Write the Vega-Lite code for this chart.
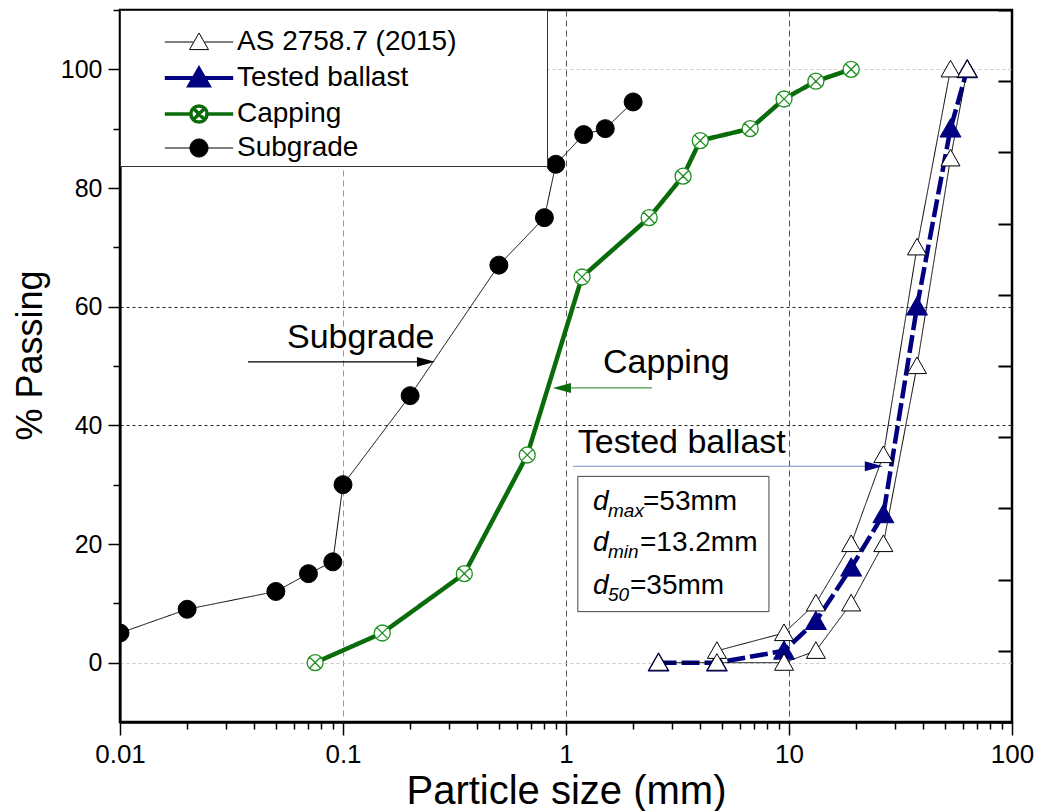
{
  "$schema": "https://vega.github.io/schema/vega-lite/v6.json",
  "width": 892,
  "height": 712,
  "autosize": "none",
  "padding": {"left": 120, "top": 10, "right": 28, "bottom": 89},
  "background": "white",
  "config": {
    "view": {"stroke": "black", "strokeWidth": 2.5},
    "font": "Liberation Sans",
    "axis": {"labelFont": "Liberation Sans", "titleFont": "Liberation Sans", "labelColor": "black", "titleColor": "black", "tickColor": "black", "domainColor": "black", "titleFontWeight": "normal"}
  },
  "datasets": {
    "main": [
      {"s": "Tested ballast", "c": "T", "x": 2.6, "y": 0},
      {"s": "Tested ballast", "c": "T", "x": 4.75, "y": 0},
      {"s": "Tested ballast", "c": "T", "x": 9.5, "y": 2},
      {"s": "Tested ballast", "c": "T", "x": 13.2, "y": 7},
      {"s": "Tested ballast", "c": "T", "x": 19, "y": 16},
      {"s": "Tested ballast", "c": "T", "x": 26.5, "y": 25},
      {"s": "Tested ballast", "c": "T", "x": 37.5, "y": 60},
      {"s": "Tested ballast", "c": "T", "x": 53, "y": 90},
      {"s": "Tested ballast", "c": "T", "x": 63, "y": 100},
      {"s": "AS 2758.7 (2015)", "c": "AU", "x": 4.75, "y": 2},
      {"s": "AS 2758.7 (2015)", "c": "AU", "x": 9.5, "y": 5},
      {"s": "AS 2758.7 (2015)", "c": "AU", "x": 13.2, "y": 10},
      {"s": "AS 2758.7 (2015)", "c": "AU", "x": 19, "y": 20},
      {"s": "AS 2758.7 (2015)", "c": "AU", "x": 26.5, "y": 35},
      {"s": "AS 2758.7 (2015)", "c": "AU", "x": 37.5, "y": 70},
      {"s": "AS 2758.7 (2015)", "c": "AU", "x": 53, "y": 100},
      {"s": "AS 2758.7 (2015)", "c": "AL", "x": 2.6, "y": 0},
      {"s": "AS 2758.7 (2015)", "c": "AL", "x": 4.75, "y": 0},
      {"s": "AS 2758.7 (2015)", "c": "AL", "x": 9.5, "y": 0},
      {"s": "AS 2758.7 (2015)", "c": "AL", "x": 13.2, "y": 2},
      {"s": "AS 2758.7 (2015)", "c": "AL", "x": 19, "y": 10},
      {"s": "AS 2758.7 (2015)", "c": "AL", "x": 26.5, "y": 20},
      {"s": "AS 2758.7 (2015)", "c": "AL", "x": 37.5, "y": 50},
      {"s": "AS 2758.7 (2015)", "c": "AL", "x": 53, "y": 85},
      {"s": "AS 2758.7 (2015)", "c": "AL", "x": 63, "y": 100},
      {"s": "Capping", "c": "C", "x": 0.075, "y": 0},
      {"s": "Capping", "c": "C", "x": 0.15, "y": 5},
      {"s": "Capping", "c": "C", "x": 0.35, "y": 15},
      {"s": "Capping", "c": "C", "x": 0.67, "y": 35},
      {"s": "Capping", "c": "C", "x": 1.18, "y": 65},
      {"s": "Capping", "c": "C", "x": 2.36, "y": 75},
      {"s": "Capping", "c": "C", "x": 3.35, "y": 82},
      {"s": "Capping", "c": "C", "x": 4, "y": 88},
      {"s": "Capping", "c": "C", "x": 6.7, "y": 90},
      {"s": "Capping", "c": "C", "x": 9.5, "y": 95},
      {"s": "Capping", "c": "C", "x": 13.2, "y": 98},
      {"s": "Capping", "c": "C", "x": 19, "y": 100},
      {"s": "Subgrade", "c": "S", "x": 0.01, "y": 5},
      {"s": "Subgrade", "c": "S", "x": 0.02, "y": 9},
      {"s": "Subgrade", "c": "S", "x": 0.05, "y": 12},
      {"s": "Subgrade", "c": "S", "x": 0.07, "y": 15},
      {"s": "Subgrade", "c": "S", "x": 0.09, "y": 17},
      {"s": "Subgrade", "c": "S", "x": 0.1, "y": 30},
      {"s": "Subgrade", "c": "S", "x": 0.2, "y": 45},
      {"s": "Subgrade", "c": "S", "x": 0.5, "y": 67},
      {"s": "Subgrade", "c": "S", "x": 0.8, "y": 75},
      {"s": "Subgrade", "c": "S", "x": 0.9, "y": 84},
      {"s": "Subgrade", "c": "S", "x": 1.2, "y": 89},
      {"s": "Subgrade", "c": "S", "x": 1.5, "y": 90},
      {"s": "Subgrade", "c": "S", "x": 2, "y": 94.5}
    ],
    "ann": [
      {"k": "label", "t": "Subgrade", "x": 0.0561, "y": 53.0},
      {"k": "label", "t": "Capping", "x": 1.466, "y": 48.8},
      {"k": "label", "t": "Tested ballast", "x": 1.13, "y": 35.3},
      {"k": "d", "t": "d", "x": 1.322, "y": 25.8},
      {"k": "d", "t": "d", "x": 1.322, "y": 18.75},
      {"k": "d", "t": "d", "x": 1.322, "y": 11.65},
      {"k": "sub", "t": "max", "x": 1.543, "y": 25.8},
      {"k": "sub", "t": "min", "x": 1.543, "y": 18.75},
      {"k": "sub", "t": "50", "x": 1.543, "y": 11.65},
      {"k": "rest", "t": "=53mm", "x": 2.214, "y": 25.8},
      {"k": "rest", "t": "=13.2mm", "x": 2.147, "y": 18.75},
      {"k": "rest", "t": "=35mm", "x": 1.936, "y": 11.65}
    ],
    "arrows": [
      {"n": "Subgrade", "x1": 0.0375, "x2": 0.2355, "hx": 0.2355, "y": 50.7},
      {"n": "Capping", "x1": 0.959, "x2": 2.43, "hx": 0.959, "y": 46.3},
      {"n": "Tested ballast", "x1": 1.074, "x2": 24.0, "hx": 24.0, "y": 33.1}
    ],
    "box": [{"x1": 1.13, "x2": 8.13, "y1": 8.6, "y2": 31.4}]
  },
  "layer": [
    {
      "data": {"name": "main"},
      "mark": {"type": "line"},
      "encoding": {
        "x": {
          "field": "x", "type": "quantitative",
          "scale": {"type": "log", "domain": [0.01, 100], "nice": false},
          "axis": {
            "values": [0.01, 0.02, 0.03, 0.04, 0.05, 0.06, 0.07, 0.08, 0.09, 0.1, 0.2, 0.3, 0.4, 0.5, 0.6, 0.7, 0.8, 0.9, 1, 2, 3, 4, 5, 6, 7, 8, 9, 10, 20, 30, 40, 50, 60, 70, 80, 90, 100],
            "format": "~g",
            "labelExpr": "(datum.value==0.01||datum.value==0.1||datum.value==1||datum.value==10||datum.value==100) ? datum.label : ''",
            "tickSize": {"condition": {"test": "datum.value==0.01||datum.value==0.1||datum.value==1||datum.value==10||datum.value==100", "value": 13}, "value": 7},
            "tickWidth": 1.5,
            "domainWidth": 2.5,
            "labelFontSize": 26,
            "labelPadding": 6,
            "labelFlush": false,
            "labelOverlap": false,
            "title": "Particle size (mm)",
            "titleFontSize": 40,
            "titleY": 81,
            "titleBaseline": "alphabetic",
            "grid": true,
            "gridOpacity": {"condition": {"test": "datum.value==0.1||datum.value==1||datum.value==10", "value": 1}, "value": 0},
            "gridColor": {"condition": {"test": "datum.value==0.1", "value": "#999"}, "value": "#555"},
            "gridDash": [6, 4],
            "gridWidth": 1
          }
        },
        "y": {
          "field": "y", "type": "quantitative",
          "scale": {"domain": [-10, 110], "nice": false, "zero": false},
          "axis": {
            "values": [0, 10, 20, 30, 40, 50, 60, 70, 80, 90, 100, 110],
            "labelExpr": "datum.value % 20 == 0 ? datum.label : ''",
            "tickSize": {"condition": {"test": "datum.value % 20 == 0", "value": 12}, "value": 7},
            "tickWidth": 1.5,
            "domainWidth": 2,
            "labelFontSize": 25,
            "labelPadding": 6,
            "labelOverlap": false,
            "title": "% Passing",
            "titleFontSize": 36,
            "titleX": -90,
            "titleY": 345,
            "titleAngle": 270,
            "titleAlign": "center",
            "titleBaseline": "middle",
            "grid": true,
            "gridOpacity": {"condition": {"test": "datum.value==0||datum.value==40||datum.value==60||datum.value==100", "value": 1}, "value": 0},
            "gridColor": {"condition": {"test": "datum.value==40||datum.value==60", "value": "#222"}, "value": "#c8c8c8"},
            "gridDash": [3, 3],
            "gridWidth": 1
          }
        },
        "detail": {"field": "c"},
        "stroke": {"field": "s", "type": "nominal", "scale": {"domain": ["AS 2758.7 (2015)", "Tested ballast", "Capping", "Subgrade"], "range": ["black", "#000080", "#0a6b0a", "black"]}, "legend": null},
        "strokeWidth": {"field": "s", "type": "nominal", "scale": {"type": "ordinal", "domain": ["AS 2758.7 (2015)", "Tested ballast", "Capping", "Subgrade"], "range": [1, 4.5, 4.5, 1]}, "legend": null},
        "strokeDash": {"field": "s", "type": "nominal", "scale": {"domain": ["AS 2758.7 (2015)", "Tested ballast", "Capping", "Subgrade"], "range": [[1, 0], [18, 5], [1, 0], [1, 0]]}, "legend": null}
      }
    },
    {
      "data": {"name": "main"},
      "mark": {"type": "point", "filled": true, "opacity": 1, "clip": true},
      "encoding": {
        "x": {"field": "x", "type": "quantitative"},
        "y": {"field": "y", "type": "quantitative", "axis": null},
        "shape": {"field": "s", "type": "nominal", "scale": {"domain": ["AS 2758.7 (2015)", "Tested ballast", "Capping", "Subgrade"], "range": ["M0,-0.95L1,0.8L-1,0.8Z", "M0,-0.95L1,0.8L-1,0.8Z", "M1,0A1,1,0,1,1,-1,0A1,1,0,1,1,1,0ZM-0.7,-0.7L0.7,0.7M-0.7,0.7L0.7,-0.7", "circle"]}, "legend": null},
        "fill": {"field": "s", "type": "nominal", "scale": {"domain": ["AS 2758.7 (2015)", "Tested ballast", "Capping", "Subgrade"], "range": ["white", "#000080", "white", "black"]}, "legend": null},
        "stroke": {"field": "s", "type": "nominal", "scale": {"domain": ["AS 2758.7 (2015)", "Tested ballast", "Capping", "Subgrade"], "range": ["black", "#000080", "#1f8f1f", "black"]}, "legend": null},
        "strokeWidth": {"field": "s", "type": "nominal", "scale": {"type": "ordinal", "domain": ["AS 2758.7 (2015)", "Tested ballast", "Capping", "Subgrade"], "range": [1, 1, 1.3, 1]}, "legend": null},
        "size": {"field": "s", "type": "nominal", "scale": {"type": "ordinal", "domain": ["AS 2758.7 (2015)", "Tested ballast", "Capping", "Subgrade"], "range": [361, 440, 256, 324]}, "legend": null}
      }
    },
    {
      "data": {"name": "box"},
      "mark": {"type": "rect", "fill": "white", "stroke": "#444", "strokeWidth": 1},
      "encoding": {
        "x": {"field": "x1", "type": "quantitative"},
        "x2": {"field": "x2"},
        "y": {"field": "y1", "type": "quantitative", "axis": null},
        "y2": {"field": "y2"}
      }
    },
    {
      "data": {"name": "ann"},
      "transform": [{"filter": "datum.k == 'label'"}],
      "mark": {"type": "text", "align": "left", "baseline": "alphabetic", "fontSize": 34, "font": "Liberation Sans", "color": "black"},
      "encoding": {
        "x": {"field": "x", "type": "quantitative"},
        "y": {"field": "y", "type": "quantitative", "axis": null},
        "text": {"field": "t"}
      }
    },
    {
      "data": {"name": "ann"},
      "transform": [{"filter": "datum.k == 'd'"}],
      "mark": {"type": "text", "align": "left", "baseline": "alphabetic", "fontSize": 28, "fontStyle": "italic", "font": "Liberation Sans", "color": "black"},
      "encoding": {
        "x": {"field": "x", "type": "quantitative"},
        "y": {"field": "y", "type": "quantitative", "axis": null},
        "text": {"field": "t"}
      }
    },
    {
      "data": {"name": "ann"},
      "transform": [{"filter": "datum.k == 'sub'"}],
      "mark": {"type": "text", "align": "left", "baseline": "alphabetic", "fontSize": 19, "fontStyle": "italic", "dy": 7, "font": "Liberation Sans", "color": "black"},
      "encoding": {
        "x": {"field": "x", "type": "quantitative"},
        "y": {"field": "y", "type": "quantitative", "axis": null},
        "text": {"field": "t"}
      }
    },
    {
      "data": {"name": "ann"},
      "transform": [{"filter": "datum.k == 'rest'"}],
      "mark": {"type": "text", "align": "left", "baseline": "alphabetic", "fontSize": 28, "font": "Liberation Sans", "color": "black"},
      "encoding": {
        "x": {"field": "x", "type": "quantitative"},
        "y": {"field": "y", "type": "quantitative", "axis": null},
        "text": {"field": "t"}
      }
    },
    {
      "data": {"name": "arrows"},
      "mark": {"type": "rule", "strokeWidth": 1.2},
      "encoding": {
        "x": {"field": "x1", "type": "quantitative"},
        "x2": {"field": "x2"},
        "y": {"field": "y", "type": "quantitative", "axis": null},
        "stroke": {"field": "n", "type": "nominal", "scale": {"domain": ["Subgrade", "Capping", "Tested ballast"], "range": ["black", "#4a9a4a", "#7d8cc8"]}, "legend": null}
      }
    },
    {
      "data": {"name": "arrows"},
      "mark": {"type": "point", "filled": true, "opacity": 1, "size": 324, "strokeWidth": 0},
      "encoding": {
        "x": {"field": "hx", "type": "quantitative"},
        "y": {"field": "y", "type": "quantitative", "axis": null},
        "shape": {"field": "n", "type": "nominal", "scale": {"domain": ["Subgrade", "Capping", "Tested ballast"], "range": ["M1,0L-1,-0.55L-1,0.55Z", "M-1,0L1,-0.55L1,0.55Z", "M1,0L-1,-0.55L-1,0.55Z"]}, "legend": null},
        "fill": {"field": "n", "type": "nominal", "scale": {"domain": ["Subgrade", "Capping", "Tested ballast"], "range": ["black", "#0a6b0a", "#000080"]}, "legend": null}
      }
    },
    {
      "data": {"name": "main"},
      "mark": {"type": "point", "filled": true, "opacity": 1, "size": 361},
      "encoding": {
        "x": {"field": "x", "type": "quantitative"},
        "y": {"field": "y", "type": "quantitative", "axis": {"orient": "right", "values": [-10, 2, 14, 26, 38, 50, 62, 74, 86, 98, 110], "labels": false, "tickSize": -14, "tickWidth": 2, "tickColor": "black", "domain": false, "grid": false, "title": null}},
        "opacity": {"value": 0}
      }
    },
    {
      "data": {"name": "main"},
      "transform": [{"filter": "false"}],
      "mark": {"type": "point", "filled": true, "opacity": 1},
      "encoding": {
        "shape": {"field": "s", "type": "nominal", "scale": {"domain": ["AS 2758.7 (2015)", "Tested ballast", "Capping", "Subgrade"], "range": ["M-3.6,0H-0.6M0.6,0H3.6M0,-0.95L1,0.8L-1,0.8Z", "M-3.6,0H-0.6M0.6,0H3.6M0,-0.95L1,0.8L-1,0.8Z", "M-3.6,0H-0.9M0.9,0H3.6M0.85,0A0.85,0.85,0,1,1,-0.85,0A0.85,0.85,0,1,1,0.85,0ZM-0.6,-0.6L0.6,0.6M-0.6,0.6L0.6,-0.6", "M-3.6,0H-0.95M0.95,0H3.6M0.95,0A0.95,0.95,0,1,1,-0.95,0A0.95,0.95,0,1,1,0.95,0Z"]},
          "legend": {"title": "\u00a0", "titleFontSize": 10, "titlePadding": 4, "orient": "none", "legendX": 0, "legendY": 0, "fillColor": "white", "strokeColor": "#333", "padding": 4, "labelFont": "Liberation Sans", "labelFontSize": 28, "labelColor": "black", "symbolSize": 361, "symbolOffset": 61, "labelOffset": 24, "rowPadding": 4, "labelLimit": 0, "labelExpr": "datum.label + '\u00a0\u00a0\u00a0\u00a0\u00a0\u00a0\u00a0\u00a0\u00a0\u00a0\u00a0\u200b'"}},
        "fill": {"field": "s", "type": "nominal", "scale": {"domain": ["AS 2758.7 (2015)", "Tested ballast", "Capping", "Subgrade"], "range": ["white", "#000080", "white", "black"]},
          "legend": {"title": "\u00a0", "titleFontSize": 10, "titlePadding": 4, "orient": "none", "legendX": 0, "legendY": 0, "fillColor": "white", "strokeColor": "#333", "padding": 4, "labelFont": "Liberation Sans", "labelFontSize": 28, "labelColor": "black", "symbolSize": 361, "symbolOffset": 61, "labelOffset": 24, "rowPadding": 4, "labelLimit": 0, "labelExpr": "datum.label + '\u00a0\u00a0\u00a0\u00a0\u00a0\u00a0\u00a0\u00a0\u00a0\u00a0\u00a0\u200b'"}},
        "stroke": {"field": "s", "type": "nominal", "scale": {"domain": ["AS 2758.7 (2015)", "Tested ballast", "Capping", "Subgrade"], "range": ["black", "#000080", "#0a6b0a", "black"]},
          "legend": {"title": "\u00a0", "titleFontSize": 10, "titlePadding": 4, "orient": "none", "legendX": 0, "legendY": 0, "fillColor": "white", "strokeColor": "#333", "padding": 4, "labelFont": "Liberation Sans", "labelFontSize": 28, "labelColor": "black", "symbolSize": 361, "symbolOffset": 61, "labelOffset": 24, "rowPadding": 4, "labelLimit": 0, "labelExpr": "datum.label + '\u00a0\u00a0\u00a0\u00a0\u00a0\u00a0\u00a0\u00a0\u00a0\u00a0\u00a0\u200b'"}},
        "strokeWidth": {"field": "s", "type": "nominal", "scale": {"type": "ordinal", "domain": ["AS 2758.7 (2015)", "Tested ballast", "Capping", "Subgrade"], "range": [1, 4, 3.5, 1]},
          "legend": {"title": "\u00a0", "titleFontSize": 10, "titlePadding": 4, "orient": "none", "legendX": 0, "legendY": 0, "fillColor": "white", "strokeColor": "#333", "padding": 4, "labelFont": "Liberation Sans", "labelFontSize": 28, "labelColor": "black", "symbolSize": 361, "symbolOffset": 61, "labelOffset": 24, "rowPadding": 4, "labelLimit": 0, "labelExpr": "datum.label + '\u00a0\u00a0\u00a0\u00a0\u00a0\u00a0\u00a0\u00a0\u00a0\u00a0\u00a0\u200b'"}}
      }
    }
  ],
  "resolve": {
    "scale": {"shape": "independent", "fill": "independent", "stroke": "independent", "strokeWidth": "independent", "strokeDash": "independent", "size": "independent"},
    "axis": {"y": "independent"}
  }
}
